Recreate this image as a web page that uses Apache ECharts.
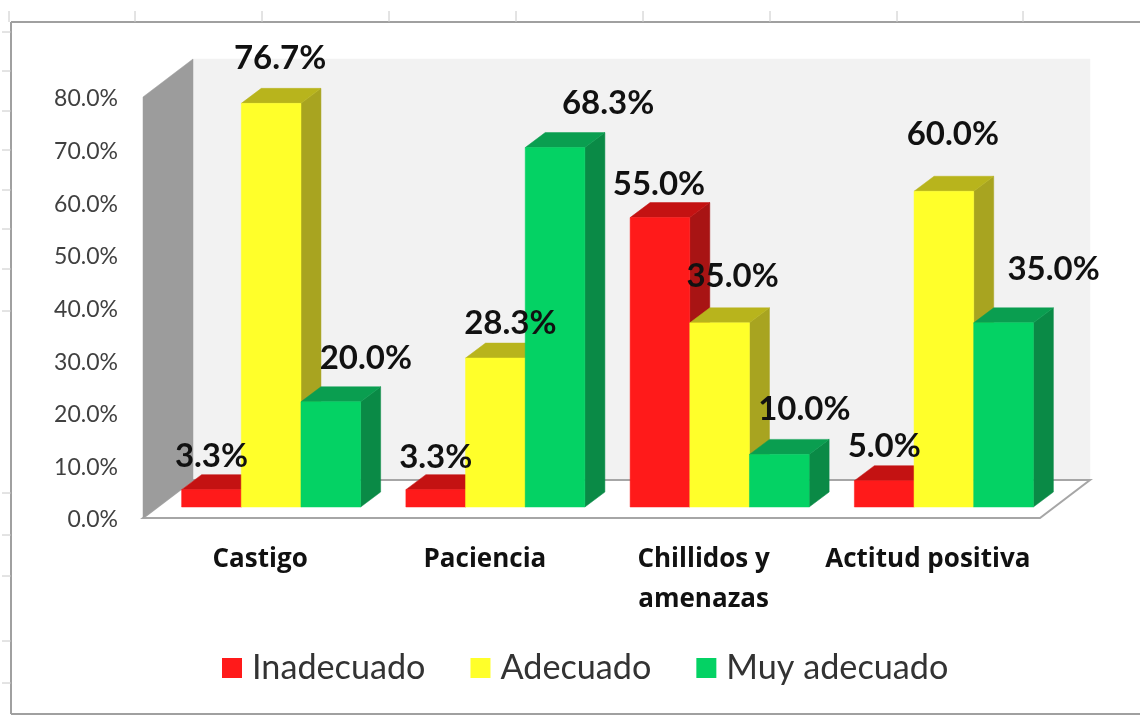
<!DOCTYPE html>
<html>
<head>
    <meta charset="UTF-8">
    <title>Chart</title>
    <script src="https://cdn.jsdelivr.net/npm/echarts@6/dist/echarts.min.js"></script>
    <style>
        html, body { margin: 0; padding: 0; background: #fff; }
        #main { width: 1140px; height: 716px; }
    </style>
</head>
<body>
<div id="main"></div>
<script>
var categories = ['Castigo', 'Paciencia', 'Chillidos y\namenazas', 'Actitud positiva'];
var inadecuado = [3.3, 3.3, 55.0, 5.0];
var adecuado = [76.7, 28.3, 35.0, 60.0];
var muyAdecuado = [20.0, 68.3, 10.0, 35.0];
var yTicks = [0, 10, 20, 30, 40, 50, 60, 70, 80];

// offset of the bar plane from the axis plane, and depth of the box
var BAR_DX = 16, BAR_DY = -11;
var DEPTH_X = 20, DEPTH_Y = -15;
var WALL_X = 50, WALL_Y = -38;
var GROUP_W = 179;

// hand placed data labels, px from the top centre of each bar's front face
var labelOff = {
    'Inadecuado': [[0, -33], [0, -32], [-1, -33], [0, -34]],
    'Adecuado': [[9, -45], [15, -35], [13, -46], [9, -57]],
    'Muy adecuado': [[35, -43], [53, -44], [25, -45], [50, -53]]
};
// category labels are not evenly spaced in the picture (left padding, px)
var catPad = [10, 11, 0, 0];

// leftovers of the spreadsheet grid around the frame
var topMarks = [9, 135, 262, 389, 516, 643, 770, 897, 1023];
var leftMarks = [32, 71, 111, 150, 190, 229, 269, 311, 493, 535, 576, 641, 683];

function poly(points, color) {
    return { type: 'polygon', shape: { points: points }, style: { fill: color, stroke: color, lineWidth: 0.5 } };
}

function boxSeries(name, values, idx, front, top, side) {
    return {
        name: name,
        type: 'custom',
        itemStyle: { color: front },
        data: values.map(function (v, i) { return [i, v]; }),
        renderItem: function (params, api) {
            var i = api.value(0), v = api.value(1);
            var p = api.coord([i, v]);
            var base = api.coord([i, 0]);
            var w = GROUP_W / 3;
            var x0 = base[0] + BAR_DX - GROUP_W / 2 + idx * w;
            var x1 = x0 + w;
            var y0 = p[1] + BAR_DY;
            var y1 = base[1] + BAR_DY;
            var off = labelOff[name][i];
            return {
                type: 'group',
                children: [
                    poly([[x1, y1], [x1 + DEPTH_X, y1 + DEPTH_Y], [x1 + DEPTH_X, y0 + DEPTH_Y], [x1, y0]], side),
                    poly([[x0, y0], [x0 + DEPTH_X, y0 + DEPTH_Y], [x1 + DEPTH_X, y0 + DEPTH_Y], [x1, y0]], top),
                    poly([[x0, y0], [x1, y0], [x1, y1], [x0, y1]], front),
                    {
                        type: 'text',
                        z2: 100,
                        style: {
                            x: (x0 + x1) / 2 + off[0],
                            y: y0 + off[1],
                            text: v.toFixed(1) + '%',
                            fill: '#111',
                            font: 'bold 33px Lato',
                            align: 'center',
                            verticalAlign: 'middle'
                        }
                    }
                ]
            };
        }
    };
}

var frame = [
    { type: 'line', shape: { x1: 11, y1: 22, x2: 1140, y2: 22 }, style: { stroke: '#a0a0a0', lineWidth: 2 } },
    { type: 'line', shape: { x1: 11, y1: 22, x2: 11, y2: 714 }, style: { stroke: '#a0a0a0', lineWidth: 2 } },
    { type: 'line', shape: { x1: 11, y1: 714, x2: 1140, y2: 714 }, style: { stroke: '#a0a0a0', lineWidth: 2 } }
];
topMarks.forEach(function (x) {
    frame.push({ type: 'line', shape: { x1: x, y1: 11, x2: x, y2: 22 }, style: { stroke: '#c8c8c8', lineWidth: 1 } });
});
leftMarks.forEach(function (y) {
    frame.push({ type: 'line', shape: { x1: 2, y1: y, x2: 11, y2: y }, style: { stroke: '#c8c8c8', lineWidth: 1 } });
});

var chart = echarts.init(document.getElementById('main'));

chart.setOption({
    animation: false,
    backgroundColor: '#fff',
    grid: { left: 143, right: 100, top: 97, bottom: 198 },
    legend: {
        data: ['Inadecuado', 'Adecuado', 'Muy adecuado'],
        left: 217,
        top: 646,
        icon: 'rect',
        itemWidth: 20,
        itemHeight: 20,
        itemGap: 45,
        textStyle: { fontFamily: 'Lato', fontSize: 34.2, color: '#333', padding: [0, 0, 0, 5] }
    },
    xAxis: {
        type: 'category',
        data: categories.map(function (c, i) {
            return { value: c, textStyle: { padding: [0, 0, 0, catPad[i]] } };
        }),
        axisLine: { show: false },
        axisTick: { show: false },
        axisLabel: {
            interval: 0,
            margin: 22,
            fontFamily: 'Open Sans',
            fontWeight: 'bold',
            fontSize: 26,
            lineHeight: 40,
            color: '#111'
        }
    },
    yAxis: {
        type: 'value',
        min: yTicks[0],
        max: yTicks[yTicks.length - 1],
        interval: yTicks[1] - yTicks[0],
        axisLine: { show: false },
        axisTick: { show: false },
        splitLine: { show: false },
        axisLabel: {
            margin: 25,
            verticalAlign: 'top',
            lineHeight: 4,
            fontFamily: 'Lato',
            fontSize: 23,
            color: '#404040',
            formatter: function (v) { return v.toFixed(1) + '%'; }
        }
    },
    graphic: frame,
    series: [
        {
            type: 'custom',
            name: 'walls',
            silent: true,
            z: 1,
            data: [[0, 0]],
            renderItem: function (params, api) {
                var g = params.coordSys;
                var l = g.x, t = g.y, r = g.x + g.width, b = g.y + g.height;
                return {
                    type: 'group',
                    children: [
                        poly([[l + WALL_X, t + WALL_Y], [r + WALL_X, t + WALL_Y], [r + WALL_X, b + WALL_Y], [l + WALL_X, b + WALL_Y]], '#f2f2f2'),
                        { type: 'polygon', shape: { points: [[l, b], [l + WALL_X, b + WALL_Y], [r + WALL_X, b + WALL_Y], [r, b]] }, style: { fill: '#fff', stroke: '#a6a6a6', lineWidth: 2 } },
                        poly([[l, t], [l + WALL_X, t + WALL_Y], [l + WALL_X, b + WALL_Y], [l, b]], '#9c9c9c')
                    ]
                };
            }
        },
        boxSeries('Inadecuado', inadecuado, 0, '#ff1a1a', '#c41212', '#a81414'),
        boxSeries('Adecuado', adecuado, 1, '#ffff2a', '#b8b41c', '#a8a420'),
        boxSeries('Muy adecuado', muyAdecuado, 2, '#04d264', '#0a9e50', '#0a8a46')
    ]
});
</script>
</body>
</html>
